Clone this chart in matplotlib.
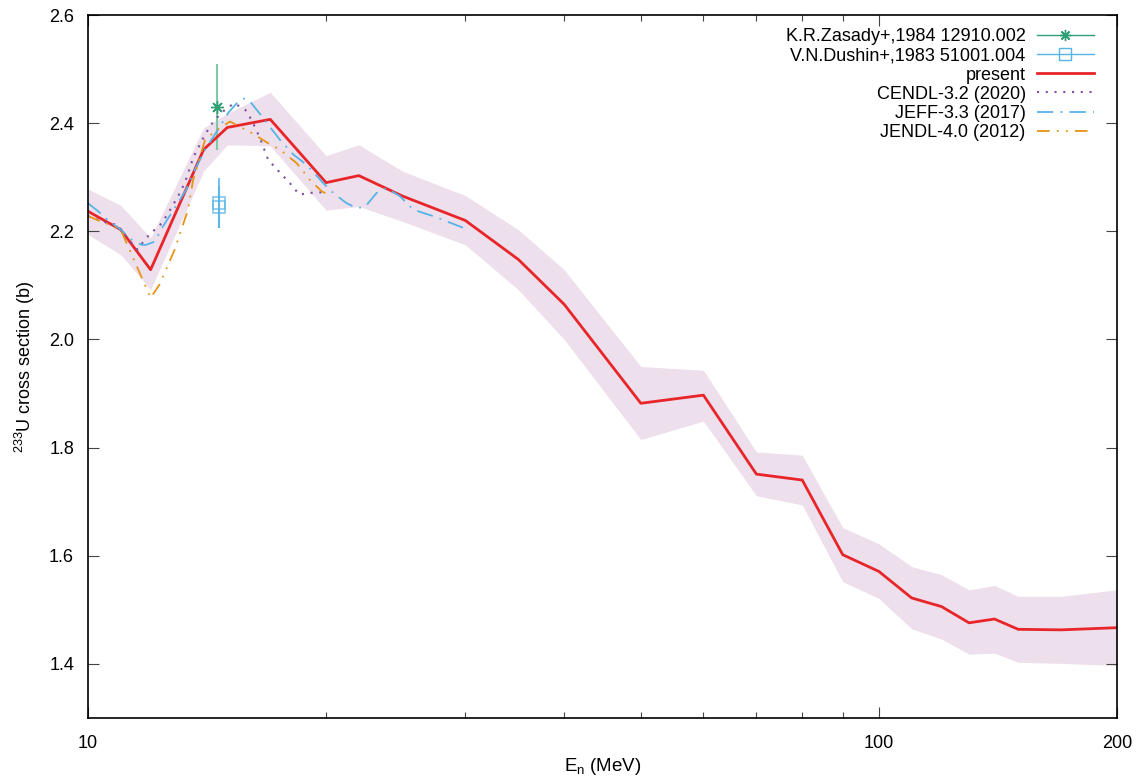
import matplotlib
matplotlib.use("Agg")
import matplotlib.pyplot as plt
from matplotlib.lines import Line2D
from matplotlib.ticker import FixedLocator, NullFormatter, FixedFormatter

plt.rcParams['font.family'] = ['Liberation Sans', 'DejaVu Sans']
plt.rcParams['mathtext.fontset'] = 'custom'
plt.rcParams['mathtext.rm'] = 'Liberation Sans'
plt.rcParams['mathtext.it'] = 'Liberation Sans:italic'

# ---- data ----
present_E = [10, 11, 12, 14, 15, 17, 20, 22, 25, 30, 35, 40, 50, 60, 70, 80, 90,
             100, 110, 120, 130, 140, 150, 170, 200]
present_xs = [2.237, 2.203, 2.129, 2.351, 2.392, 2.407, 2.290, 2.303, 2.265, 2.220,
              2.148, 2.065, 1.882, 1.897, 1.751, 1.740, 1.602, 1.571, 1.522, 1.506,
              1.476, 1.483, 1.464, 1.463, 1.467]
band_upper = [2.278, 2.248, 2.188, 2.391, 2.418, 2.457, 2.340, 2.360, 2.311, 2.266,
              2.203, 2.129, 1.950, 1.943, 1.792, 1.786, 1.652, 1.622, 1.580, 1.565,
              1.537, 1.545, 1.525, 1.525, 1.537]
band_lower = [2.194, 2.157, 2.092, 2.311, 2.360, 2.358, 2.239, 2.246, 2.218, 2.175,
              2.092, 2.000, 1.815, 1.849, 1.711, 1.694, 1.552, 1.521, 1.465, 1.446,
              1.418, 1.420, 1.403, 1.401, 1.397]

cendl_E = [10, 10.6, 10.9, 11.2, 11.55, 11.75, 12.0, 12.3, 12.6, 13.0, 13.25, 13.6,
           14.05, 14.4, 14.8, 15.3, 15.8, 16.1, 16.5, 16.9, 17.5, 18.0, 18.5, 19.1,
           19.7, 20]
cendl_xs = [2.228, 2.215, 2.212, 2.188, 2.166, 2.181, 2.197, 2.209, 2.231, 2.265,
            2.289, 2.338, 2.378, 2.403, 2.421, 2.437, 2.425, 2.406, 2.372, 2.332,
            2.308, 2.289, 2.268, 2.271, 2.272, 2.272]

jeff_E = [10, 10.3, 10.65, 11.0, 11.35, 11.68, 11.85, 12.14, 12.44, 12.87, 13.31,
          13.65, 14.06, 14.69, 15.04, 15.49, 15.79, 16.03, 16.42, 16.9, 17.49, 18.18,
          18.9, 19.84, 20.42, 21.23, 21.86, 22.4, 23.17, 23.86, 24.8, 25.78, 27.33, 30]
jeff_xs = [2.252, 2.237, 2.218, 2.203, 2.185, 2.175, 2.175, 2.181, 2.209, 2.243,
           2.277, 2.314, 2.351, 2.394, 2.419, 2.440, 2.446, 2.440, 2.421, 2.397,
           2.369, 2.342, 2.323, 2.289, 2.271, 2.252, 2.243, 2.245, 2.271, 2.280,
           2.265, 2.240, 2.228, 2.205]

jendl_E = [10, 10.65, 11.0, 12.0, 12.32, 12.87, 13.38, 13.58, 14.06, 14.47, 15.12,
           16.1, 16.89, 17.49, 18.36, 19.08, 19.74, 20]
jendl_xs = [2.228, 2.212, 2.203, 2.077, 2.102, 2.166, 2.240, 2.295, 2.369, 2.385,
            2.403, 2.382, 2.363, 2.351, 2.326, 2.295, 2.274, 2.270]

zasady_E = [14.57]
zasady_xs = [2.430]
zasady_err = [0.080]

dushin_E = [14.63, 14.63]
dushin_xs = [2.253, 2.245]
dushin_err = [0.046, 0.038]

xtick_major = [10, 100, 200]
xtick_labels = ['10', '100', '200']
xtick_minor = [20, 30, 40, 50, 60, 70, 80, 90]
ytick_vals = [1.4, 1.6, 1.8, 2.0, 2.2, 2.4, 2.6]

# ---- colours ----
c_green = '#2f9e74'
c_blue = '#56b4e9'
c_red = '#e8262a'
c_purple = '#7b4fa3'
c_orange = '#e69414'
c_band = '#eddfeb'

FS = 13

fig = plt.figure(figsize=(11.45, 7.82), dpi=100)
ax = fig.add_axes([88 / 1145, 64 / 782, (1117 - 88) / 1145, (718 - 15) / 782])

ax.fill_between(present_E, band_lower, band_upper, color=c_band, lw=0, zorder=1)

ax.errorbar(zasady_E, zasady_xs, yerr=zasady_err, fmt='none', ecolor='#7ec9a8',
            elinewidth=1.5, capsize=0, zorder=3)
ax.plot(zasady_E, zasady_xs, ls='none', marker=(8, 2, 0), ms=9, mew=1.0,
        color=c_green, zorder=4)
ax.errorbar(dushin_E, dushin_xs, yerr=dushin_err, fmt='none', ecolor=c_blue,
            elinewidth=1.5, capsize=0, zorder=3, alpha=0.8)
ax.plot(dushin_E, dushin_xs, ls='none', marker='s', ms=9, mfc='none', mew=1.1,
        color=c_blue, alpha=0.8, zorder=4)

ax.plot(present_E, present_xs, color=c_red, lw=2.0, zorder=5)
ax.plot(cendl_E, cendl_xs, color=c_purple, lw=1.5, ls=(0, (1, 3.2)), zorder=6)
ax.plot(jeff_E, jeff_xs, color=c_blue, lw=1.3, ls=(0, (9, 4, 1, 4)), zorder=6)
ax.plot(jendl_E, jendl_xs, color=c_orange, lw=1.3, ls=(0, (7, 4, 1, 4, 1, 4)), zorder=6)

ax.set_xscale('log')
ax.set_xlim(10, 200)
ax.set_ylim(1.3, 2.6)
ax.xaxis.set_major_locator(FixedLocator(xtick_major))
ax.xaxis.set_major_formatter(FixedFormatter(xtick_labels))
ax.xaxis.set_minor_locator(FixedLocator(xtick_minor))
ax.xaxis.set_minor_formatter(NullFormatter())
ax.yaxis.set_major_locator(FixedLocator(ytick_vals))
ax.yaxis.set_minor_locator(FixedLocator([]))
ax.set_yticklabels([f'{v:.1f}' for v in ytick_vals])

ax.tick_params(axis='both', which='major', direction='in', length=8, width=0.8,
               top=True, right=True, labelsize=FS, pad=10, color='#444444')
ax.tick_params(axis='both', which='minor', direction='in', length=4, width=0.8,
               top=True, right=True, color='#444444')
ax.tick_params(axis='x', which='major', pad=12)
for s in ax.spines.values():
    s.set_linewidth(1.2)
    s.set_zorder(10)

ax.set_xlabel(r'E$_{\rm n}$ (MeV)', fontsize=FS + 0.5, labelpad=3)
ax.set_ylabel(r'$^{\rm 233}$U cross section (b)', fontsize=FS, labelpad=9)

handles = [
    Line2D([], [], color=c_green, lw=1.0, marker=(8, 2, 0), ms=8, mew=1.0),
    Line2D([], [], color=c_blue, lw=1.0, marker='s', ms=8, mfc='none', mew=1.0),
    Line2D([], [], color=c_red, lw=2.0),
    Line2D([], [], color=c_purple, lw=1.5, ls=(0, (1, 3.2))),
    Line2D([], [], color=c_blue, lw=1.3, ls=(0, (9, 4, 1, 4))),
    Line2D([], [], color=c_orange, lw=1.3, ls=(0, (7, 4, 1, 4, 1, 4))),
]
labels = ['K.R.Zasady+,1984 12910.002', 'V.N.Dushin+,1983 51001.004', 'present',
          'CENDL-3.2 (2020)', 'JEFF-3.3 (2017)', 'JENDL-4.0 (2012)']
leg = ax.legend(handles, labels, loc='upper right', markerfirst=False, frameon=False,
                fontsize=FS, numpoints=1, handlelength=3.15, handletextpad=0.62,
                labelspacing=0.12, borderaxespad=0.0,
                bbox_to_anchor=(1 - 16 / 1029, 1 - 6 / 703))

fig.savefig('out.png', dpi=100)
